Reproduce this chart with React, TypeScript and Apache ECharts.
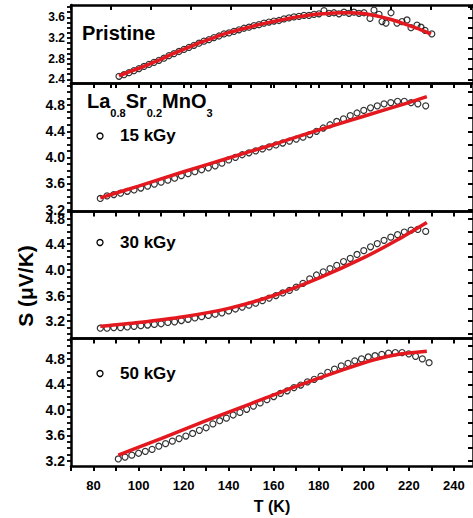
import React, { useEffect, useRef } from "react";
import * as echarts from "echarts";

const FONT = "'Liberation Sans', Arial, Helvetica, sans-serif";

// ---- Pristine panel (its own temperature scale) ----
const T_PRISTINE = [84, 86.5, 89, 91.5, 94, 96.5, 99, 101.5, 104, 106.5, 109, 111.5, 114, 116.5, 119, 121.5, 124, 126.5, 129, 131.5, 134, 136.5, 139, 141.5, 144, 146.5, 149, 151.5, 154, 156.5, 159, 161.5, 164, 166.5, 169, 171.5, 174, 176.5, 179, 181.5, 184, 186.5, 189, 191.5, 194, 196.5, 199, 201.5, 204, 206.5, 209.5, 211.5, 214, 215.5, 217.5, 220, 223, 225.5, 228, 230, 233, 235, 237, 240.4];
const S_PRISTINE = [2.46, 2.49, 2.53, 2.57, 2.61, 2.65, 2.69, 2.73, 2.77, 2.81, 2.86, 2.9, 2.94, 2.98, 3.02, 3.06, 3.1, 3.14, 3.17, 3.21, 3.24, 3.28, 3.3, 3.33, 3.36, 3.39, 3.41, 3.44, 3.46, 3.49, 3.51, 3.53, 3.54, 3.57, 3.59, 3.61, 3.62, 3.64, 3.64, 3.66, 3.67, 3.73, 3.68, 3.69, 3.67, 3.7, 3.68, 3.7, 3.68, 3.69, 3.58, 3.74, 3.66, 3.52, 3.49, 3.69, 3.49, 3.52, 3.55, 3.4, 3.45, 3.41, 3.35, 3.28];
const T_PRISTINE_FIT = [84, 90, 95, 100, 105, 110, 115, 120, 125, 130, 135, 140, 145, 150, 155, 160, 165, 170, 175, 180, 185, 190, 195, 200, 205, 210, 215, 220, 225, 230, 235, 240];
const S_PRISTINE_FIT = [2.47, 2.56, 2.63, 2.71, 2.79, 2.88, 2.96, 3.04, 3.12, 3.19, 3.26, 3.32, 3.37, 3.42, 3.47, 3.51, 3.55, 3.59, 3.62, 3.65, 3.67, 3.68, 3.69, 3.69, 3.68, 3.65, 3.61, 3.56, 3.5, 3.43, 3.36, 3.28];

// ---- 15 kGy ----
const T_15 = [83, 86, 89, 92, 95, 98, 101, 104, 107, 110, 113, 116, 119, 122, 125, 128, 131, 134, 137, 140, 143, 146, 149, 152, 155, 158, 161, 164, 167, 170, 173, 176, 179, 182, 185, 188, 191, 194, 197, 200, 203, 206, 209, 212, 215, 218, 221, 224, 227.5];
const S_15 = [3.37, 3.41, 3.43, 3.45, 3.48, 3.5, 3.53, 3.56, 3.59, 3.62, 3.65, 3.68, 3.72, 3.75, 3.78, 3.81, 3.84, 3.87, 3.91, 3.96, 4.0, 4.04, 4.07, 4.1, 4.13, 4.16, 4.19, 4.22, 4.25, 4.28, 4.31, 4.35, 4.4, 4.45, 4.5, 4.55, 4.59, 4.64, 4.68, 4.72, 4.76, 4.79, 4.82, 4.84, 4.86, 4.86, 4.84, 4.82, 4.79];
const T_15_FIT = [83, 100, 120, 140, 160, 180, 200, 220, 228];
const S_15_FIT = [3.38, 3.56, 3.78, 3.99, 4.2, 4.42, 4.63, 4.84, 4.93];

// ---- 30 kGy ----
const T_30 = [83, 86, 89, 92, 95, 98, 101, 104, 107, 110, 113, 116, 119, 122, 125, 128, 131, 134, 137, 140, 143, 146, 149, 152, 155, 158, 161, 164, 167, 170, 173, 176, 179, 182, 185, 188, 191, 194, 197, 200, 203, 206, 209, 212, 215, 218, 221, 224, 227.5];
const S_30 = [3.09, 3.09, 3.1, 3.1, 3.11, 3.12, 3.13, 3.14, 3.15, 3.16, 3.18, 3.19, 3.21, 3.23, 3.25, 3.27, 3.29, 3.31, 3.33, 3.36, 3.39, 3.42, 3.45, 3.48, 3.52, 3.56, 3.6, 3.64, 3.68, 3.73, 3.79, 3.86, 3.92, 3.97, 4.02, 4.07, 4.13, 4.18, 4.24, 4.3, 4.36, 4.41, 4.46, 4.51, 4.55, 4.59, 4.62, 4.63, 4.6];
const T_30_FIT = [83, 100, 120, 140, 160, 180, 200, 215, 228];
const S_30_FIT = [3.12, 3.18, 3.27, 3.4, 3.6, 3.87, 4.19, 4.47, 4.74];

// ---- 50 kGy ----
const T_50 = [91, 94, 97, 100, 103, 106, 109, 112, 115, 118, 121, 124, 127, 130, 133, 136, 139, 142, 145, 148, 151, 154, 157, 160, 163, 166, 169, 172, 175, 178, 181, 184, 187, 190, 193, 196, 199, 202, 205, 208, 211, 214, 217, 220, 223, 226, 229];
const S_50 = [3.23, 3.26, 3.29, 3.32, 3.35, 3.38, 3.43, 3.47, 3.51, 3.55, 3.59, 3.63, 3.68, 3.72, 3.78, 3.83, 3.87, 3.92, 3.96, 4.01, 4.06, 4.11, 4.16, 4.21, 4.26, 4.3, 4.35, 4.39, 4.44, 4.48, 4.53, 4.59, 4.64, 4.69, 4.73, 4.77, 4.8, 4.83, 4.85, 4.87, 4.89, 4.9, 4.9, 4.88, 4.84, 4.8, 4.74];
const T_50_FIT = [91, 110, 130, 150, 170, 190, 205, 215, 228];
const S_50_FIT = [3.29, 3.55, 3.83, 4.1, 4.37, 4.62, 4.79, 4.87, 4.92];

// ---- tick labels ----
const X_LABELS = [80, 100, 120, 140, 160, 180, 200, 220, 240];
const Y_LABELS_PRISTINE = [2.4, 2.8, 3.2, 3.6];
const Y_LABELS_15 = [3.2, 3.6, 4.0, 4.4, 4.8];
const Y_LABELS_30 = [3.2, 3.6, 4.0, 4.4, 4.8];
const Y_LABELS_50 = [3.2, 3.6, 4.0, 4.4, 4.8];

const zip = (a: number[], b: number[]) => a.map((v, i) => [v, b[i]]);

function tickValues(min: number, max: number, step: number) {
  const out: number[] = [];
  const start = Math.ceil(min / step - 1e-9);
  for (let k = start; k * step <= max + 1e-9; k++) out.push(+(k * step).toFixed(4));
  return out;
}

const BLACK = "#000";
const RED = "#e3191f";

export default function App() {
  const ref = useRef<HTMLDivElement>(null);

  useEffect(() => {
    if (!ref.current) return;
    const chart = echarts.init(ref.current, undefined, { renderer: "svg" });

    const panels = [
      { top: 5, height: 78, xMin: 60, xMax: 261, xStep: 20, xTop: 20, yMin: 2.33, yMax: 3.84, labels: Y_LABELS_PRISTINE, fs: 12,
        T: T_PRISTINE, S: S_PRISTINE, TF: T_PRISTINE_FIT, SF: S_PRISTINE_FIT, name: "Pristine" },
      { top: 83, height: 128.5, xMin: 70, xMax: 248.5, xStep: 10, xTop: 10, yMin: 3.17, yMax: 5.14, labels: Y_LABELS_15, fs: 14,
        T: T_15, S: S_15, TF: T_15_FIT, SF: S_15_FIT, name: "15 kGy" },
      { top: 211.5, height: 127, xMin: 70, xMax: 248.5, xStep: 10, xTop: 10, yMin: 2.93, yMax: 4.91, labels: Y_LABELS_30, fs: 14,
        T: T_30, S: S_30, TF: T_30_FIT, SF: S_30_FIT, name: "30 kGy" },
      { top: 338.5, height: 127.5, xMin: 70, xMax: 248.5, xStep: 10, xTop: 10, yMin: 3.12, yMax: 5.12, labels: Y_LABELS_50, fs: 14,
        T: T_50, S: S_50, TF: T_50_FIT, SF: S_50_FIT, name: "50 kGy" },
    ];

    const axisLine = { show: true, lineStyle: { color: BLACK, width: 2.5 } };
    const grid: any[] = [];
    const xAxis: any[] = [];
    const yAxis: any[] = [];
    const series: any[] = [];

    panels.forEach((p, i) => {
      const last = i === panels.length - 1;
      grid.push({ left: 71, width: 403, top: p.top, height: p.height });
      xAxis.push({
        gridIndex: i, type: "value", position: "bottom", min: p.xMin, max: p.xMax,
        axisLine,
        axisTick: {
          show: last || i === 0, inside: false, length: 5,
          lineStyle: { color: BLACK, width: 2 },
          customValues: tickValues(p.xMin, p.xMax, p.xStep),
        },
        axisLabel: last
          ? { show: true, customValues: X_LABELS, color: BLACK, fontSize: 13, fontWeight: "bold", fontFamily: FONT, margin: 13 }
          : { show: false },
        splitLine: { show: false },
        name: last ? "T (K)" : "",
        nameLocation: "middle",
        nameGap: 32,
        nameTextStyle: { color: BLACK, fontSize: 16, fontWeight: "bold", fontFamily: FONT },
      });
      xAxis.push({
        gridIndex: i, type: "value", position: "top", min: p.xMin, max: p.xMax,
        axisLine,
        axisTick: {
          show: true, inside: true, length: 5,
          lineStyle: { color: BLACK, width: 2 },
          customValues: tickValues(p.xMin, p.xMax, p.xTop),
        },
        axisLabel: { show: false },
        splitLine: { show: false },
      });
      yAxis.push({
        gridIndex: i, type: "value", position: "left", min: p.yMin, max: p.yMax,
        axisLine,
        axisTick: {
          show: true, inside: false, length: 4,
          lineStyle: { color: BLACK, width: 1.8 },
          customValues: tickValues(p.yMin, p.yMax, 0.1),
        },
        axisLabel: {
          show: true, customValues: p.labels, color: BLACK, fontSize: p.fs, fontWeight: "bold", fontFamily: FONT, margin: 6,
          formatter: (v: number) => v.toFixed(1),
        },
        splitLine: { show: false },
      });
      yAxis.push({
        gridIndex: i, type: "value", position: "right", min: p.yMin, max: p.yMax,
        axisLine,
        axisTick: {
          show: true, inside: true, length: 5,
          lineStyle: { color: BLACK, width: 2 },
          customValues: tickValues(p.yMin, p.yMax, 0.2),
        },
        axisLabel: { show: false },
        splitLine: { show: false },
      });

      series.push({
        type: "scatter", name: p.name, xAxisIndex: 2 * i, yAxisIndex: 2 * i,
        data: zip(p.T, p.S), symbol: "circle", symbolSize: 6,
        itemStyle: { color: "rgba(255,255,255,0)", borderColor: BLACK, borderWidth: 1.2 },
        z: 2,
      });
      series.push({
        type: "line", name: p.name + " fit", xAxisIndex: 2 * i, yAxisIndex: 2 * i,
        data: zip(p.TF, p.SF), showSymbol: false, smooth: 0.25,
        lineStyle: { color: RED, width: 3.5 },
        z: 3,
      });
    });

    const bold = (size: number) => ({ fontSize: size, fontWeight: "bold", fontFamily: FONT, fill: BLACK });

    const graphic: any[] = [
      { type: "text", x: 82, y: 33, style: { text: "Pristine", ...bold(20), align: "left", verticalAlign: "middle" } },
      {
        type: "text", x: 87, y: 91,
        style: {
          text: "{m|La}{s|0.8}{m|Sr}{s|0.2}{m|MnO}{s|3}",
          align: "left", verticalAlign: "top",
          rich: {
            m: { ...bold(20), lineHeight: 22, verticalAlign: "top" },
            s: { ...bold(11), lineHeight: 13, padding: [16, 0, 0, 0], verticalAlign: "top" },
          },
        },
      },
      { type: "circle", shape: { cx: 100, cy: 136, r: 3 }, style: { fill: "none", stroke: BLACK, lineWidth: 1.3 } },
      { type: "text", x: 120, y: 135, style: { text: "15 kGy", ...bold(17), align: "left", verticalAlign: "middle" } },
      { type: "circle", shape: { cx: 100, cy: 242.5, r: 3 }, style: { fill: "none", stroke: BLACK, lineWidth: 1.3 } },
      { type: "text", x: 120, y: 242.5, style: { text: "30 kGy", ...bold(17), align: "left", verticalAlign: "middle" } },
      { type: "circle", shape: { cx: 100, cy: 373.5, r: 3 }, style: { fill: "none", stroke: BLACK, lineWidth: 1.3 } },
      { type: "text", x: 120, y: 373, style: { text: "50 kGy", ...bold(17), align: "left", verticalAlign: "middle" } },
      { type: "text", x: 25, y: 286, rotation: Math.PI / 2, style: { text: "S (μV/K)", ...bold(21), align: "center", verticalAlign: "middle" } },
    ];

    chart.setOption({
      animation: false,
      backgroundColor: "#fff",
      grid, xAxis, yAxis, series, graphic,
    });

    return () => chart.dispose();
  }, []);

  return <div ref={ref} style={{ position: "fixed", left: 0, top: 0, width: 473, height: 518 }} />;
}
